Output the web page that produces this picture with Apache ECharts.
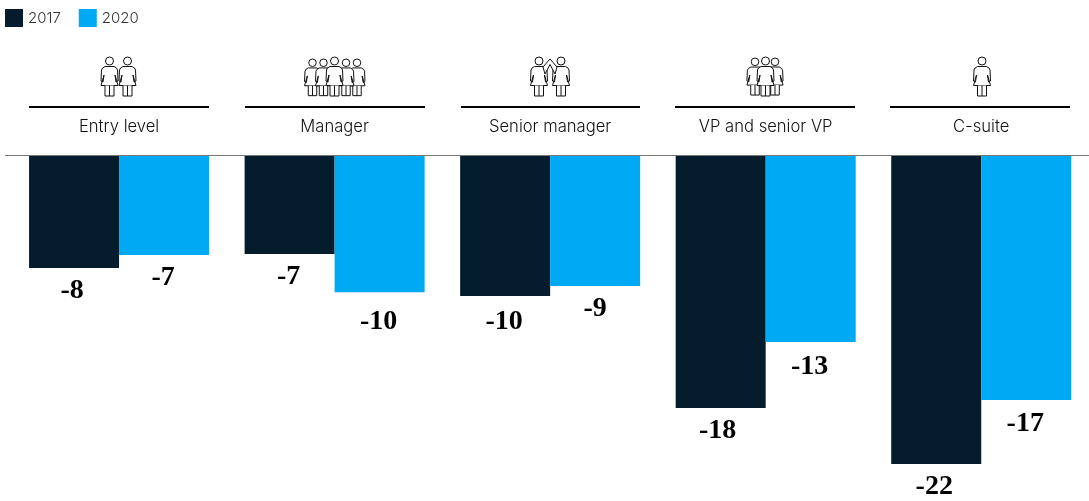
<!DOCTYPE html>
<html><head><meta charset="utf-8">
<style>html,body{margin:0;padding:0;background:#fff}#c{width:1089px;height:501px}</style>
<script src="https://cdn.jsdelivr.net/npm/echarts@6/dist/echarts.min.js"></script>
</head><body><div id="c"></div>
<script>
const categories = ['Entry level','Manager','Senior manager','VP and senior VP','C-suite'];
const seriesNames = ['2017','2020'];
const values2017 = [-8.07,-7.07,-10.07,-18.07,-22.07];
const values2020 = [-7.14,-9.8,-9.36,-13.36,-17.5];
const labels2017 = ['-8','-7','-10','-18','-22'];
const labels2020 = ['-7','-10','-9','-13','-17'];

const dark='#051C2C', blue='#00A9F4', ink='#111';
const sans='Inter', serif='"Liberation Serif"';
const off2017=[[-2,0],[-1,0],[-1,3],[-3,0],[-2,0]];
const off2020=[[-1,0],[-1,7],[0,0],[-1,2],[-1,1]];

function person(cx,top,s,z){
  const line={stroke:ink,lineWidth:1/s,fill:'#fff'};
  const open={stroke:ink,lineWidth:1/s,fill:'none'};
  return {type:'group',x:cx,y:top,scaleX:s,scaleY:s,z:z||10,children:[
    {type:'circle',z:z,shape:{cx:0,cy:4,r:4},style:line},
    {type:'polygon',z:z,shape:{points:[[-4.5,9.5],[4.5,9.5],[7,11],[8,13],[8.5,24],[6.5,25],[5.5,18],[8.5,28.5],[-8.5,28.5],[-5.5,18],[-6.5,25],[-8.5,24],[-8,13],[-7,11]]},style:line},
    {type:'polyline',z:z,shape:{points:[[-4.5,28.5],[-4.5,39],[4.5,39],[4.5,28.5]]},style:line},
    {type:'line',z:z,shape:{x1:0,y1:28.5,x2:0,y2:39},style:open}
  ]};
}
const icons=[
  person(109.5,57,1,10),person(127.5,57,1,10),
  person(312.5,59,.94,10),person(323.5,59,.94,11),person(357,59,.94,10),person(346,59,.94,11),person(334.5,57,1,12),
  person(539,57,1,10),person(561,57,1,10),
  person(755,58,.95,10),person(775,58,.95,10),person(765.5,57,1,12),
  person(982,57,1,10)
];
const ruleSpans=[[29,209],[245,425],[461,640],[675,855],[890,1070]];
const rules=ruleSpans.map(r=>({type:'line',shape:{x1:r[0],y1:107,x2:r[1],y2:107},style:{stroke:'#000',lineWidth:2}}));
const highFive=[
  {type:'polygon',z:13,shape:{points:[[543,67],[550,59],[557,67],[555,74],[550,64.5],[545,74]]},style:{fill:'#fff',stroke:ink,lineWidth:1}}
];

function mk(i,vals,labs,offs,col){
  return {name:seriesNames[i],type:'bar',barWidth:90,barGap:0,itemStyle:{color:col},
    data:vals.map((v,k)=>({value:v,label:{offset:offs[k],formatter:labs[k]}})),
    label:{show:true,position:'bottom',distance:9,fontFamily:serif,fontSize:28,fontWeight:'bold',color:'#000'},
    silent:true,animation:false};
}
const chart=echarts.init(document.getElementById('c'),null,{renderer:'canvas'});
chart.setOption({
  animation:false,backgroundColor:'#fff',
  legend:{left:5,top:9,padding:0,itemWidth:18,itemHeight:18,itemGap:18,selectedMode:false,icon:'rect',
    textStyle:{fontFamily:sans,fontSize:15,fontWeight:300,color:'#333'},data:seriesNames},
  grid:{left:11.3,width:1079,top:155,height:336,containLabel:false},
  xAxis:{type:'category',position:'top',data:categories,axisTick:{show:false},axisLine:{show:false},
    axisLabel:{fontFamily:sans,fontSize:16.6,fontWeight:300,color:'#111',margin:20,interval:0}},
  yAxis:{type:'value',min:-24,max:0,show:false,splitLine:{show:false}},
  series:[mk(0,values2017,labels2017,off2017,dark),mk(1,values2020,labels2020,off2020,blue)],
  graphic:[...rules,...icons,...highFive,{type:'line',z:20,shape:{x1:5,y1:155.5,x2:1089,y2:155.5},style:{stroke:'#777',lineWidth:1}}]
});
</script></body></html>
